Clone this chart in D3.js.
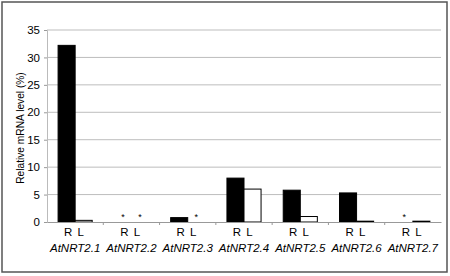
<!DOCTYPE html>
<html>
<head>
<meta charset="utf-8">
<script src="https://cdn.jsdelivr.net/npm/d3@7"></script>
<style>
body { margin: 0; background: #fff; }
svg text { font-family: "Liberation Sans", Arial, sans-serif; fill: #000; }
</style>
</head>
<body>
<svg class="chart" width="450" height="276"></svg>
<script>
// data; null = not detected (asterisk)
let genes = ["AtNRT2.1", "AtNRT2.2", "AtNRT2.3", "AtNRT2.4", "AtNRT2.5", "AtNRT2.6", "AtNRT2.7"]
let tissues = ["R", "L"]
let root_values = [32.2, null, 0.8, 8.0, 5.8, 5.3, null]
let leaf_values = [0.3, null, null, 6.0, 1.0, 0.15, 0.15]
let y_ticks = [0, 5, 10, 15, 20, 25, 30, 35]

let width = 450
let height = 276
const margin = {top: 30, left: 47, right: 9, bottom: 54}

let svg = d3.select(".chart")

// outer frame
svg.append("rect")
    .attr("x", 2).attr("y", 2)
    .attr("width", 445).attr("height", 270)
    .attr("fill", "none")
    .attr("stroke", "#555")
    .attr("stroke-width", 1.5)

let xScale = d3.scaleBand()
    .domain(genes)
    .range([margin.left, width - margin.right])

let xInner = d3.scaleBand()
    .domain(tissues)
    .range([0, xScale.bandwidth()])
    .paddingOuter(0.65)

let yScale = d3.scaleLinear()
    .domain([0, 35])
    .range([height - margin.bottom, margin.top])

// gridlines
svg.append("g")
    .selectAll("line.grid")
    .data(y_ticks.slice(1))
    .enter()
    .append("line")
    .classed("grid", true)
    .attr("x1", margin.left)
    .attr("x2", width - margin.right)
    .attr("y1", d => yScale(d))
    .attr("y2", d => yScale(d))
    .attr("stroke", "#bdbdbd")
    .attr("stroke-width", 1)

// y axis
let yAxis = svg.append("g")
    .attr("transform", `translate(${margin.left}, 0)`)
    .call(d3.axisLeft(yScale).tickValues(y_ticks).tickSize(3).tickPadding(4))
yAxis.select(".domain").attr("stroke", "#bbb")
yAxis.selectAll(".tick line").attr("stroke", "#999")
yAxis.selectAll("text")
    .style("font-size", "11.5px")
    .style("font-family", "Liberation Sans, Arial, sans-serif")

// rows of values per bar
let bars = []
genes.forEach((g, i) => {
    bars.push({gene: g, tissue: "R", value: root_values[i]})
    bars.push({gene: g, tissue: "L", value: leaf_values[i]})
})

svg.append("g")
    .selectAll("rect.bar")
    .data(bars.filter(d => d.value !== null))
    .enter()
    .append("rect")
    .classed("bar", true)
    .attr("x", d => xScale(d.gene) + xInner(d.tissue))
    .attr("width", xInner.bandwidth())
    .attr("y", d => yScale(d.value))
    .attr("height", d => yScale(0) - yScale(d.value))
    .attr("fill", d => d.tissue === "R" ? "#000" : "#fff")
    .attr("stroke", "#000")
    .attr("stroke-width", 1)

// asterisks for not detected
svg.append("g")
    .selectAll("text.nd")
    .data(bars.filter(d => d.value === null))
    .enter()
    .append("text")
    .classed("nd", true)
    .attr("x", d => xScale(d.gene) + xInner(d.tissue) + xInner.bandwidth() / 2)
    .attr("y", yScale(0) - 2)
    .attr("text-anchor", "middle")
    .style("font-size", "9px")
    .text("*")

// x axis
let xAxis = svg.append("g")
    .attr("transform", `translate(0, ${yScale(0)})`)
    .call(d3.axisBottom(xScale).tickSize(0).tickFormat(""))
xAxis.select(".domain").attr("stroke", "#999")

svg.append("g")
    .selectAll("line.sep")
    .data(genes.slice(1))
    .enter()
    .append("line")
    .classed("sep", true)
    .attr("x1", d => xScale(d))
    .attr("x2", d => xScale(d))
    .attr("y1", yScale(0))
    .attr("y2", yScale(0) + 3)
    .attr("stroke", "#999")

// R / L labels
svg.append("g")
    .selectAll("text.tissue")
    .data(bars)
    .enter()
    .append("text")
    .classed("tissue", true)
    .attr("x", d => xScale(d.gene) + xInner(d.tissue) + xInner.bandwidth() / 2 + (d.tissue === "R" ? 1.5 : -3))
    .attr("y", yScale(0) + 14)
    .attr("text-anchor", "middle")
    .style("font-size", "11.5px")
    .text(d => d.tissue)

// gene labels
svg.append("g")
    .selectAll("text.gene")
    .data(genes)
    .enter()
    .append("text")
    .classed("gene", true)
    .attr("x", d => xScale(d) + xScale.bandwidth() / 2)
    .attr("y", yScale(0) + 30)
    .attr("text-anchor", "middle")
    .style("font-size", "11.5px")
    .style("font-style", "italic")
    .text(d => d)

// y label
svg.append("text")
    .attr("transform", `translate(24, 128) rotate(-90)`)
    .attr("text-anchor", "middle")
    .style("font-size", "10.2px")
    .text("Relative mRNA level (%)")
</script>
</body>
</html>
